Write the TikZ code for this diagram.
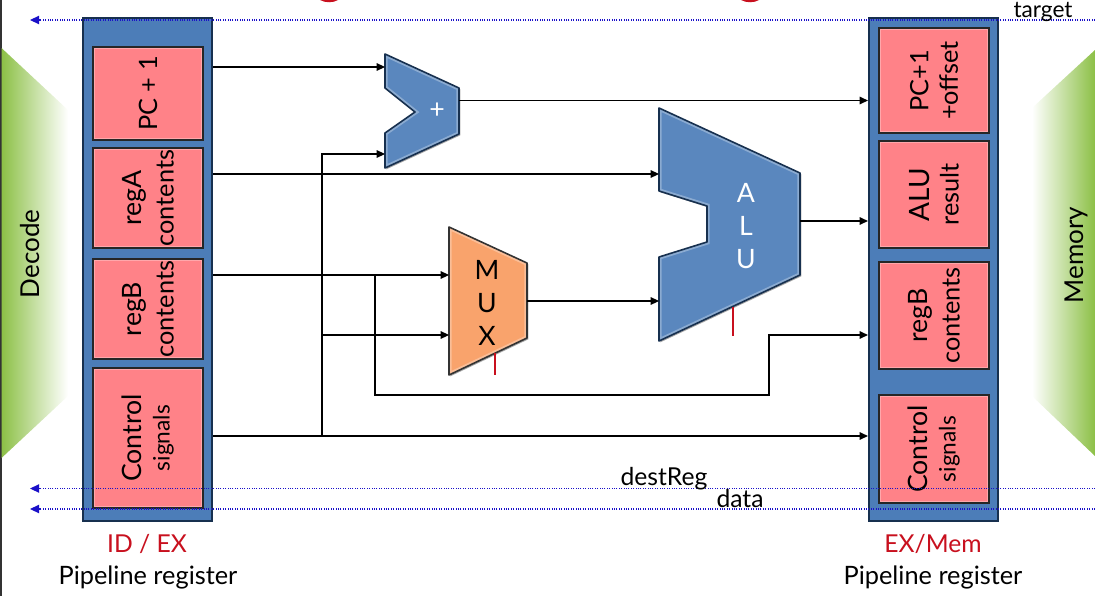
\documentclass[tikz,border=0pt]{standalone}
\usepackage{fontspec}
\setmainfont{Lato}
\usetikzlibrary{arrows.meta,shadows}
\definecolor{regblue}{HTML}{4C7DB8}
\definecolor{regedge}{HTML}{17304F}
\definecolor{boxpink}{HTML}{FF8288}
\definecolor{muxorange}{HTML}{F9A36C}
\definecolor{stagegreen}{HTML}{8CC046}
\definecolor{tagred}{HTML}{C8101E}
\definecolor{busblue}{HTML}{1A10C8}
\newcommand\fsz[1]{\fontsize{#1}{#1}\selectfont}
\newcommand\bevelunit[3]{%
  \fill[#1] #3;
  \begin{scope}\clip #3; \draw[white,opacity=0.3,line width=4pt] #3;\end{scope}
  \draw[draw=#2,line width=1.2pt,line join=round] #3;}
\tikzset{
  softshadow/.style={drop shadow={shadow xshift=1pt,shadow yshift=-1pt,opacity=0.35,fill=black}},
  rimlight/.style={path picture={\draw[white,opacity=0.3,line width=3.5pt] (path picture bounding box.south west) rectangle (path picture bounding box.north east);}},
  pipereg/.style={draw=regedge,line width=1.6pt,fill=regblue,softshadow,minimum width=96.75pt,minimum height=377pt,inner sep=0pt},
  regbox/.style={draw=black!85,line width=1.4pt,fill=boxpink,rimlight,rotate=90,minimum height=82.5pt,inner sep=0pt,align=center},
  unitblue/.style={fill=regblue!92!white,softshadow},
  unitorange/.style={fill=muxorange,softshadow},
  wire/.style={line width=0.9pt,draw=black},
  wirearrow/.style={wire,-{Stealth[inset=0pt,length=2.2mm,width=2mm]}},
  bus/.style={densely dotted,line width=0.8pt,busblue,-{Stealth[inset=0pt,length=2.4mm,width=2.2mm]}},
  ctrltick/.style={line width=1pt,tagred},
  stagetag/.style={font=\fsz{19.5},rotate=90},
  regname/.style={font=\fsz{18.5},text=tagred},
  regcap/.style={font=\fsz{19}},
  buslabel/.style={font=\fsz{18.5}}
}
\begin{document}
\begin{tikzpicture}[x=0.75pt,y=-0.75pt]
  \useasboundingbox (0,0) rectangle (1095,596);
  \fill[black!80] (0,0) rectangle (1.5,596);
  \fill[tagred] (320,0) .. controls (325,3) and (333,3) .. (338,0) -- cycle;
  \fill[tagred] (741,0) .. controls (746,3) and (754,3) .. (759,0) -- cycle;

  \shade[left color=stagegreen,right color=white] (1.5,48)--(68,110)--(68,396)--(1.5,458)--cycle;
  \shade[left color=white,right color=stagegreen] (1095,50)--(1032,108)--(1032,396)--(1095,456)--cycle;
  \node[stagetag] (decode) at (30,254) {Decode};
  \node[stagetag] (memory) at (1076,255) {Memory};

  % pipeline registers
  \node[pipereg] (idex) at (147.5,269.5) {};
  \node[pipereg] (exmem) at (933.5,269.5) {};
  \foreach \name/\cy/\len/\txt in {
      pcone/93.5/93/{\fsz{19}PC + 1},
      rega/198/100/{\fsz{20}regA\\[7pt]\fsz{19}contents},
      regb/309/100/{\fsz{20}regB\\[7pt]\fsz{19}contents},
      ctrl/438/140/{\fsz{20}Control\\[7pt]\fsz{17}signals}}
    \node[regbox,minimum width=\len*0.75pt] (\name) at (148,\cy) {\txt};
  \foreach \name/\cy/\len/\txt in {
      target/80.5/105/{\fsz{19}PC+1\\[7pt]\fsz{19}+offset},
      result/194.5/107/{\fsz{21}ALU\\[7pt]\fsz{19}result},
      regbout/315.5/107/{\fsz{20}regB\\[7pt]\fsz{19}contents},
      ctrlout/449/108/{\fsz{20}Control\\[7pt]\fsz{17}signals}}
    \node[regbox,minimum width=\len*0.75pt] (\name) at (934,\cy) {\txt};

  % units
  \bevelunit{unitblue}{regedge}{(385,54)--(459,88)--(459,134)--(385,168)--(385,133)--(415,112)--(385,88)--cycle}
  \node[text=white,font=\fsz{20}] (plus) at (437,111) {+};
  \bevelunit{unitblue}{regedge}{(659,108)--(800,173)--(800,275)--(659,341)--(659,257)--(707,242)--(707,206)--(659,191)--cycle}
  \node[text=white,align=center,font=\fontsize{20}{24.5}\selectfont] (alu) at (746,226) {A\\L\\U};
  \bevelunit{unitorange}{black!80}{(449,227)--(527,263)--(527,338)--(449,375)--cycle}
  \node[align=center,font=\fontsize{20}{24.5}\selectfont] (mux) at (487,303) {M\\U\\X};

  % ports
  \foreach \name/\x/\y in {addA/385/67,addB/385/154,addOut/459/100.5,aluA/659/174,aluB/659/301,aluOut/800/221,
      muxA/449/275,muxB/449/335,muxOut/527/301,aluSel/733/307,aluSelEnd/733/336,muxSel/495/353,muxSelEnd/495/375,
      tapB/375/275,tapC/322/436,tapD/322/335,bendA/375/395,bendB/769/395,bendC/769/335}
    \coordinate (\name) at (\x,\y);

  \draw[wirearrow] (idex.east |- addA) -- (addA);
  \draw[wirearrow] (tapC) -- (tapC |- addB) -- (addB);
  \draw[wirearrow] (idex.east |- aluA) -- (aluA);
  \draw[wirearrow] (addOut) -- (addOut -| exmem.west);
  \draw[wirearrow] (aluOut) -- (aluOut -| exmem.west);
  \draw[wirearrow] (muxOut) -- (aluB);
  \draw[wirearrow] (idex.east |- muxA) -- (muxA);
  \draw[wirearrow] (tapD) -- (muxB);
  \draw[wirearrow] (tapB) -- (bendA) -- (bendB) -- (bendC) -- (bendC -| exmem.west);
  \draw[wirearrow] (idex.east |- tapC) -- (tapC -| exmem.west);
  \draw[ctrltick] (aluSel) -- (aluSelEnd);
  \draw[ctrltick] (muxSel) -- (muxSelEnd);

  % buses
  \foreach \name/\y in {targetbus/20,destbus/488.5,databus/509} {
    \coordinate (\name R) at (1095,\y);
    \coordinate (\name L) at (30,\y);
    \draw[bus] (\name R) -- (\name L);
  }
  \node[buslabel,font=\fsz{17},anchor=base,inner sep=0pt] (targetlab) at (1043,17) {target};
  \node[buslabel,anchor=base] (destlab) at (664,485) {destReg};
  \node[buslabel,anchor=base] (datalab) at (740,507) {data};

  \node[regname] (idexname) at (147,544) {ID / EX};
  \node[regcap] (idexcap) at (148,577) {Pipeline register};
  \node[regname] (exmemname) at (933,544) {EX/Mem};
  \node[regcap] (exmemcap) at (933,577) {Pipeline register};
\end{tikzpicture}
\end{document}
